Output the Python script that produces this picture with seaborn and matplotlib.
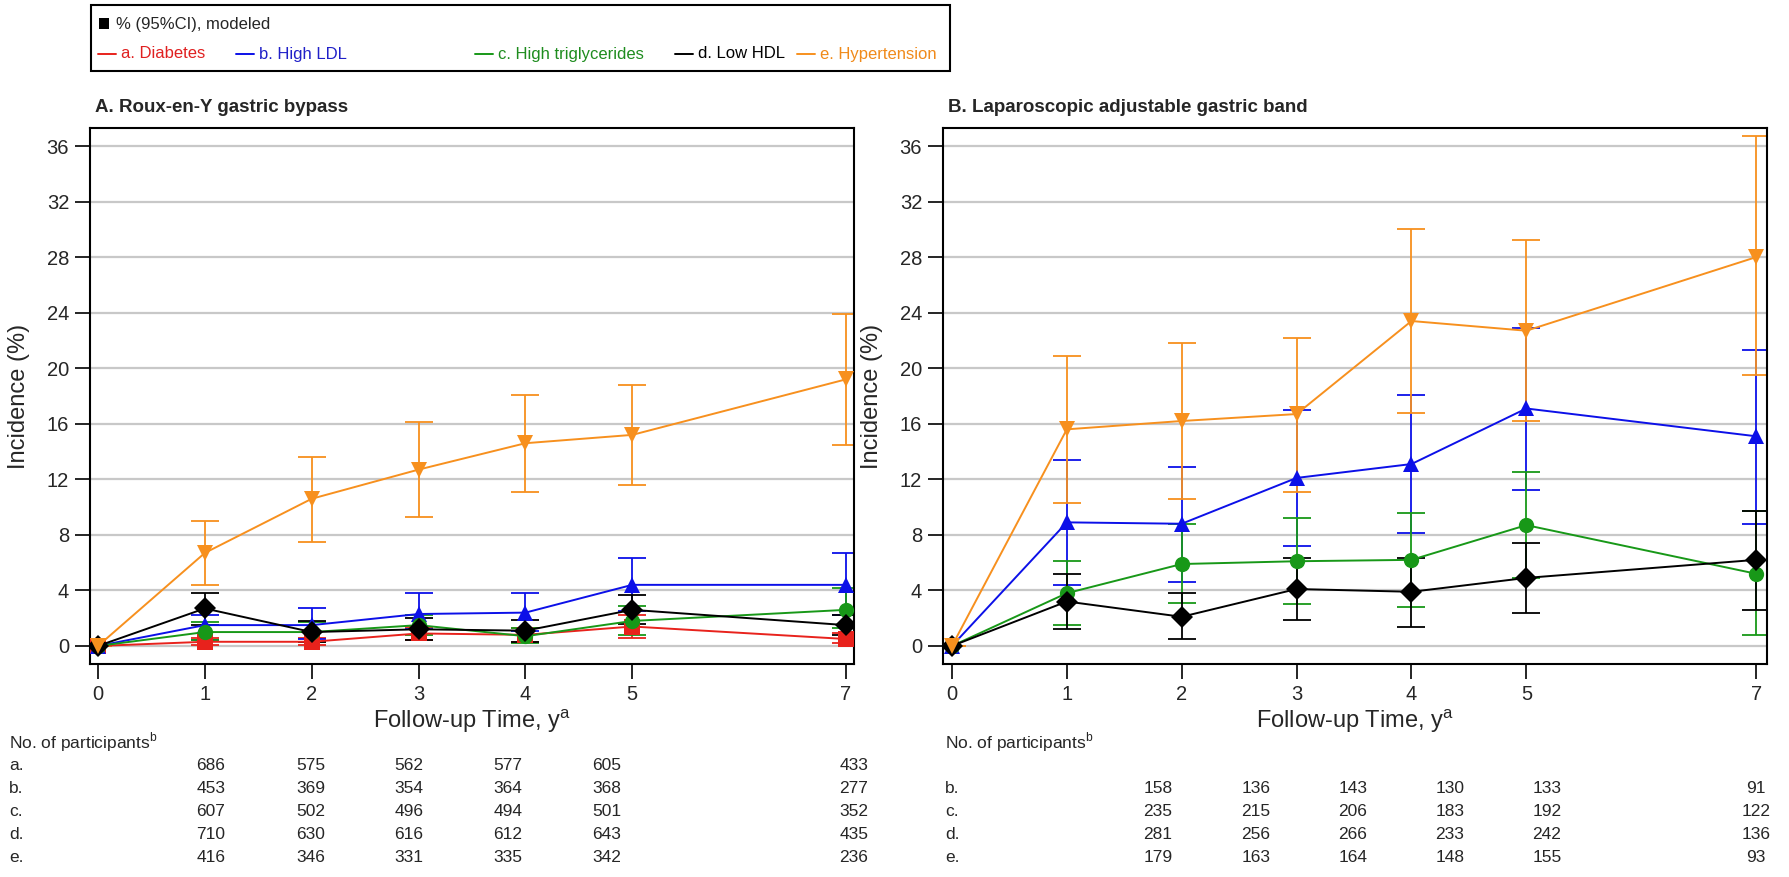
import pandas as pd
import seaborn as sns
import matplotlib.pyplot as plt
from matplotlib.lines import Line2D
from matplotlib.patches import Rectangle

# follow-up years
years = [0, 1, 2, 3, 4, 5, 7]

# A. Roux-en-Y gastric bypass: estimate, lower and upper 95% CI (%)
a_diab = [0, 0.3, 0.3, 0.9, 0.8, 1.4, 0.5]
a_diab_lo = [0, 0.1, 0.1, 0.4, 0.3, 0.6, 0.2]
a_diab_hi = [0, 0.6, 0.6, 1.4, 1.3, 2.2, 0.9]
a_ldl = [0, 1.5, 1.5, 2.3, 2.4, 4.4, 4.4]
a_ldl_lo = [0, 0.4, 0.5, 1.2, 1.1, 2.5, 2.2]
a_ldl_hi = [0, 2.2, 2.7, 3.8, 3.8, 6.3, 6.7]
a_tg = [0, 1.0, 1.0, 1.5, 0.7, 1.8, 2.6]
a_tg_lo = [0, 0.4, 0.3, 0.8, 0.2, 0.8, 1.3]
a_tg_hi = [0, 1.7, 1.7, 2.2, 1.3, 2.9, 4.2]
a_hdl = [0, 2.7, 1.0, 1.2, 1.1, 2.6, 1.5]
a_hdl_lo = [0, 1.5, 0.3, 0.4, 0.3, 1.6, 0.8]
a_hdl_hi = [0, 3.8, 1.8, 2.0, 1.9, 3.7, 2.2]
a_htn = [0, 6.7, 10.6, 12.7, 14.6, 15.2, 19.2]
a_htn_lo = [0, 4.4, 7.5, 9.3, 11.1, 11.6, 14.5]
a_htn_hi = [0, 9.0, 13.6, 16.1, 18.1, 18.8, 23.9]

# B. Laparoscopic adjustable gastric band
b_ldl = [0, 8.9, 8.8, 12.1, 13.1, 17.1, 15.1]
b_ldl_lo = [0, 4.4, 4.6, 7.2, 8.1, 11.2, 8.8]
b_ldl_hi = [0, 13.4, 12.9, 17.0, 18.1, 22.9, 21.3]
b_tg = [0, 3.8, 5.9, 6.1, 6.2, 8.7, 5.2]
b_tg_lo = [0, 1.5, 3.1, 3.0, 2.8, 4.9, 0.8]
b_tg_hi = [0, 6.1, 8.8, 9.2, 9.6, 12.5, 9.7]
b_hdl = [0, 3.2, 2.1, 4.1, 3.9, 4.9, 6.2]
b_hdl_lo = [0, 1.2, 0.5, 1.9, 1.4, 2.4, 2.6]
b_hdl_hi = [0, 5.2, 3.8, 6.3, 6.3, 7.4, 9.7]
b_htn = [0, 15.6, 16.2, 16.7, 23.4, 22.7, 28.0]
b_htn_lo = [0, 10.3, 10.6, 11.1, 16.8, 16.2, 19.5]
b_htn_hi = [0, 20.9, 21.8, 22.2, 30.0, 29.2, 36.7]

# participants table
a_counts = {
    'a.': [686, 575, 562, 577, 605, 433],
    'b.': [453, 369, 354, 364, 368, 277],
    'c.': [607, 502, 496, 494, 501, 352],
    'd.': [710, 630, 616, 612, 643, 435],
    'e.': [416, 346, 331, 335, 342, 236],
}
b_counts = {
    'a.': None,
    'b.': [158, 136, 143, 130, 133, 91],
    'c.': [235, 215, 206, 183, 192, 122],
    'd.': [281, 256, 266, 233, 242, 136],
    'e.': [179, 163, 164, 148, 155, 93],
}

series = ['a. Diabetes', 'b. High LDL', 'c. High triglycerides', 'd. Low HDL', 'e. Hypertension']
colors = {'a. Diabetes': '#e8221c', 'b. High LDL': '#0c10e8', 'c. High triglycerides': '#189818',
          'd. Low HDL': '#000000', 'e. Hypertension': '#f7901e'}
text_colors = {'a. Diabetes': '#e02020', 'b. High LDL': '#2020c8', 'c. High triglycerides': '#1e8c1e',
               'd. Low HDL': '#000000', 'e. Hypertension': '#f08a1a'}
markers = {'a. Diabetes': 's', 'b. High LDL': '^', 'c. High triglycerides': 'o',
           'd. Low HDL': 'D', 'e. Hypertension': 'v'}

panel_a = {
    'a. Diabetes': (a_diab, a_diab_lo, a_diab_hi),
    'b. High LDL': (a_ldl, a_ldl_lo, a_ldl_hi),
    'c. High triglycerides': (a_tg, a_tg_lo, a_tg_hi),
    'd. Low HDL': (a_hdl, a_hdl_lo, a_hdl_hi),
    'e. Hypertension': (a_htn, a_htn_lo, a_htn_hi),
}
panel_b = {
    'b. High LDL': (b_ldl, b_ldl_lo, b_ldl_hi),
    'c. High triglycerides': (b_tg, b_tg_lo, b_tg_hi),
    'd. Low HDL': (b_hdl, b_hdl_lo, b_hdl_hi),
    'e. Hypertension': (b_htn, b_htn_lo, b_htn_hi),
}


def to_long(panel):
    rows = []
    for name, (est, lo, hi) in panel.items():
        for yr, v, l, h in zip(years, est, lo, hi):
            rows.append({'year': yr, 'value': v, 'lo': l, 'hi': h, 'series': name})
    return pd.DataFrame(rows)


sns.set_style('white')
plt.rcParams['font.family'] = ['Liberation Sans', 'DejaVu Sans']
plt.rcParams['mathtext.fontset'] = 'custom'
plt.rcParams['mathtext.rm'] = 'Liberation Sans'

fs_text = 12.5     # table
fs_leg = 12
fs_tick = 14.5
fs_lab = 17
fs_title = 13.5

W, H = 1790, 877
fig = plt.figure(figsize=(W / 100, H / 100), dpi=100)


def fx(px):
    return px / W


def fy(px):
    return 1 - px / H


box_top, box_bot = 128, 664
# box left/right (px), x limits, row-label x, table column centres, title
panels = [
    (90, 854, (-0.075, 7.075), 9, [211, 311, 409, 508, 607, 854],
     'A. Roux-en-Y gastric bypass', panel_a, a_counts),
    (943, 1767, (-0.078, 7.095), 945, [1158, 1256, 1353, 1450, 1547, 1756],
     'B. Laparoscopic adjustable gastric band', panel_b, b_counts),
]

for left, right, xlim, lab_x, cols, title, panel, counts in panels:
    width = right - left
    ax = fig.add_axes([fx(left), fy(box_bot), fx(width), (box_bot - box_top) / H])
    df = to_long(panel)
    names = list(panel.keys())

    for y in range(0, 37, 4):
        ax.axhline(y, color='#c8c8c8', lw=1.6, zorder=0)

    for name in names:
        sub = df[df['series'] == name]
        ax.errorbar(sub['year'], sub['value'], yerr=[sub['value'] - sub['lo'], sub['hi'] - sub['value']],
                    fmt='none', ecolor=colors[name], elinewidth=1.3, capsize=10, capthick=1.3, zorder=2)

    sns.lineplot(data=df, x='year', y='value', hue='series', style='series', hue_order=names,
                 palette={n: colors[n] for n in names}, markers={n: markers[n] for n in names},
                 dashes=False, markersize=11, markeredgewidth=0, linewidth=1.4,
                 legend=False, ax=ax, zorder=3)

    ax.set_xlim(*xlim)
    ax.set_ylim(-1.3, 37.3)
    ax.set_xticks(years)
    ax.set_yticks(range(0, 37, 4))
    ax.tick_params(axis='both', direction='out', length=11, width=1.2, color='black',
                   labelsize=fs_tick, bottom=True, left=True)
    ax.tick_params(axis='x', pad=4)
    ax.tick_params(axis='y', pad=4)
    for sp in ax.spines.values():
        sp.set_color('black')
        sp.set_linewidth(1.5)
    ax.set_xlabel('Follow-up Time, y$^{\\mathrm{a}}$', fontsize=fs_lab, labelpad=2)
    ax.set_ylabel('Incidence (%)', fontsize=fs_lab)
    ax.yaxis.set_label_coords(-60 / width, 0.5)

    fig.text(fx(left + 5), fy(107), title, fontsize=fs_title, fontweight='bold', va='center', ha='left')

    # number of participants table
    fig.text(fx(lab_x), fy(742), 'No. of participants$^{\\mathrm{b}}$', fontsize=fs_text, va='center')
    for i, (lab, vals) in enumerate(counts.items()):
        ypos = fy(766 + i * 22.8)
        if vals is None:
            continue
        fig.text(fx(lab_x), ypos, lab, fontsize=fs_text, va='center')
        for cx, n in zip(cols, vals):
            fig.text(fx(cx), ypos, str(n), fontsize=fs_text, ha='center', va='center')

# legend box
leg_right = 950
fig.add_artist(Rectangle((fx(91), fy(71)), fx(leg_right - 91), (71 - 5) / H, transform=fig.transFigure,
                         fill=False, edgecolor='black', lw=1.5))
fig.add_artist(Rectangle((fx(99), fy(29)), fx(10), 11 / H, transform=fig.transFigure,
                         facecolor='black', edgecolor='none'))
fig.text(fx(116), fy(24), '% (95%CI), modeled', fontsize=fs_leg, va='center')
line_x = [98, 236, 475, 675, 797]
for x0, name in zip(line_x, series):
    fig.add_artist(Line2D([fx(x0), fx(x0 + 18)], [fy(54), fy(54)], transform=fig.transFigure,
                          color=colors[name], lw=1.4))
    fig.text(fx(x0 + 23), fy(54), name, fontsize=fs_leg, va='center', color=text_colors[name])

fig.savefig('out.png', dpi=100)
